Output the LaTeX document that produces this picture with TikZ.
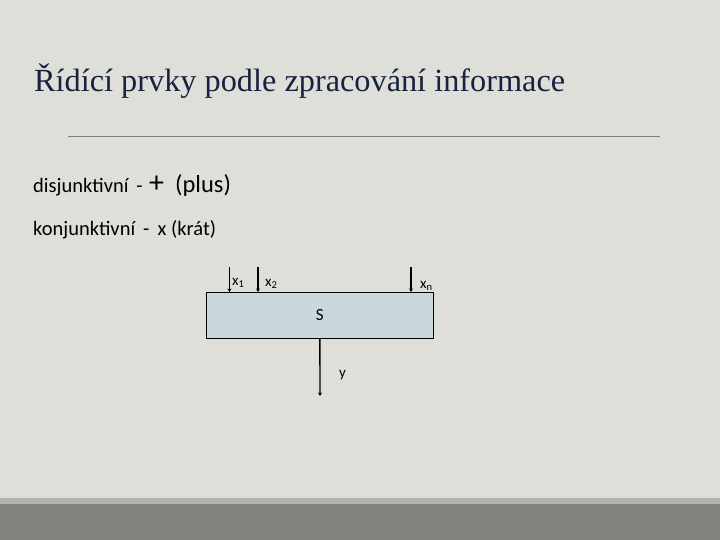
\documentclass[tikz,border=0pt]{standalone}
\usepackage{fontspec}
\setmainfont{Liberation Serif}
\newfontfamily\calib{Carlito}
\usetikzlibrary{arrows.meta}
\definecolor{slidebg}{HTML}{DFDFD9}
\definecolor{bandgray}{HTML}{83847D}
\definecolor{stripegray}{HTML}{B4B4AD}
\definecolor{titleblue}{HTML}{17223F}
\definecolor{boxfill}{HTML}{C9D8DA}
\tikzset{
  txt/.style={anchor=base west, inner sep=0pt, font=\calib\fontsize{20.5}{24}\selectfont},
  lbl/.style={anchor=base west, inner sep=0pt, font=\calib\fontsize{15}{18}\selectfont},
  inarrow/.style={-{Stealth[length=3.5pt,width=4pt]}, line width=1.4pt}
}
\begin{document}
\begin{tikzpicture}[x=1pt,y=-1pt]
    \useasboundingbox (0,0) rectangle (720,540);
    \fill[slidebg] (0,0) rectangle (720,540);
    \fill[stripegray] (0,498) rectangle (720,504);
    \fill[bandgray] (0,504) rectangle (720,540);

    \node[anchor=base west, inner sep=0pt, text=titleblue, font=\fontsize{32.3}{38}\selectfont] at (34,92) (title){Řídící prvky podle zpracování informace};
    \draw[gray, line width=0.8pt] (68,136) -- (660,136);

    \node[txt] at (33,193) (dis){disjunktivní \,-};
    \node[txt, font=\calib\fontsize{30}{34}\selectfont] at (149,193) (plus){+};
    \node[txt, font=\calib\fontsize{24.5}{28}\selectfont] at (175,193) (plustxt){(plus)};
    \node[txt] at (33,236) (kon){konjunktivní \,- \,x (krát)};

    \node[draw=black, fill=boxfill, line width=0.8pt, minimum width=227pt, minimum height=46pt, inner sep=0pt, anchor=north west, font=\calib\fontsize{17}{20}\selectfont] at (206,292) (sys){S};

    \coordinate (in1) at (229.5,267);
    \coordinate (in2) at (258,267);
    \coordinate (inn) at (411,267);
    \coordinate (out) at (320,396);
    \draw[inarrow] (in1) -- (in1 |- sys.north);
    \draw[inarrow] (in2) -- (in2 |- sys.north);
    \draw[inarrow] (inn) -- (inn |- sys.north);
    \draw[inarrow] (sys.south) -- (out);

    \node[lbl] at (232,285) (x1){x\textsubscript{1}};
    \node[lbl] at (265,286) (x2){x\textsubscript{2}};
    \node[lbl] at (420,288) (xn){x\textsubscript{n}};
    \node[lbl] at (339,377) (y){y};
\end{tikzpicture}
\end{document}
